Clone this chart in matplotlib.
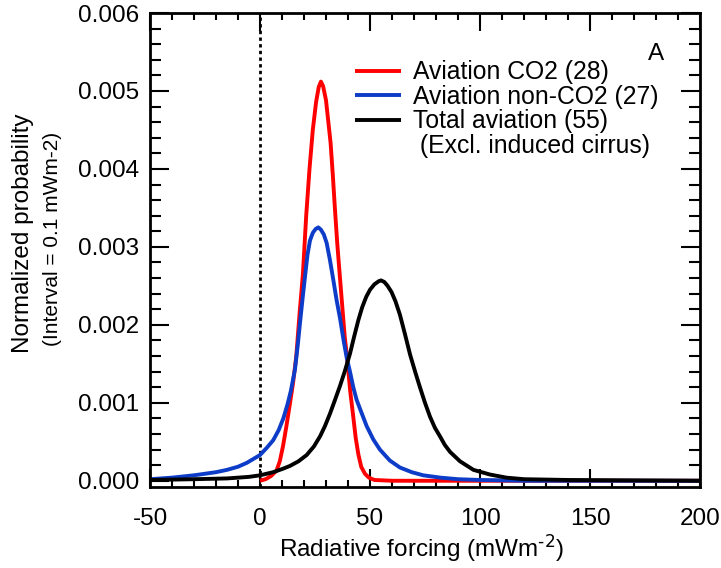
import matplotlib
matplotlib.use('Agg')
import matplotlib.pyplot as plt
from matplotlib.ticker import MultipleLocator, FormatStrFormatter
from matplotlib.lines import Line2D

plt.rcParams['font.family'] = ['Liberation Sans', 'DejaVu Sans']
plt.rcParams['mathtext.default'] = 'regular'
plt.rcParams['axes.unicode_minus'] = False

# Probability distributions of radiative forcing (mWm-2)
co2_x = [0, 2.5, 5, 7.5, 9, 10.5, 12, 13.5, 15, 16.5, 18, 19.5, 21, 22.5, 24, 25.5,
         26.7, 27.7, 28.7, 30, 31, 32.1, 33.1, 34.1, 35.1, 36.3, 37.5, 38.5, 39.7,
         41, 42.4, 43.5, 44.7, 46, 47.7, 49.5, 52, 60, 100, 200]
co2_y = [0.0, 0.00002, 0.00006, 0.00013, 0.00025, 0.00045, 0.00070, 0.00097, 0.00125,
         0.00160, 0.00215, 0.00265, 0.00340, 0.00400, 0.00450, 0.00486, 0.00505,
         0.00512, 0.00506, 0.00488, 0.00462, 0.00433, 0.00392, 0.00347, 0.00305,
         0.00262, 0.00220, 0.00185, 0.00155, 0.00115, 0.00082, 0.00055, 0.00034,
         0.00018, 0.00009, 0.00004, 0.00001, 0.0, 0.0, 0.0]

nonco2_x = [-50, -40, -30, -25, -20, -15, -10, -6, -3, 0, 3, 6, 8.5, 10.6, 12.5, 14,
            15.9, 17.2, 18.2, 19.4, 20.5, 21.6, 22.7, 24, 25.3, 26.5, 27.7, 29, 30.3,
            31.8, 33.3, 34.8, 36.4, 38, 39.4, 40.9, 42.4, 43.9, 45.5, 48.5, 51.5, 54.5,
            59, 63.6, 69, 74.2, 82, 90, 100, 120, 200]
nonco2_y = [0.00002, 0.00004, 0.00007, 0.00009, 0.00011, 0.00014, 0.00018, 0.00023,
            0.00028, 0.00033, 0.00042, 0.00052, 0.00065, 0.00080, 0.00098, 0.00115,
            0.00143, 0.00175, 0.00203, 0.00235, 0.00263, 0.00290, 0.00308, 0.00318,
            0.00323, 0.00325, 0.00322, 0.00316, 0.00305, 0.00283, 0.00258, 0.00232,
            0.00208, 0.00180, 0.00158, 0.00140, 0.00120, 0.00104, 0.00092, 0.00070,
            0.00053, 0.00040, 0.00026, 0.00017, 0.00011, 0.00007, 0.00004, 0.00002,
            0.00001, 0.0, 0.0]

total_x = [-50, -30, -15, -5, 0, 6, 10, 13.6, 17.5, 21.2, 24.5, 27.3, 29.5, 31.8, 34,
           36.4, 38.5, 40.9, 42.8, 44.7, 46.5, 48.3, 50, 52, 54, 55, 56.5, 58, 59.8,
           61.6, 63.6, 65.9, 68.2, 70.5, 72.7, 75, 77.3, 79.5, 81.8, 84, 86.4, 90.9,
           97, 104.5, 112, 120, 140, 200]
total_y = [0.00001, 0.00002, 0.00003, 0.00005, 0.00007, 0.00011, 0.00015, 0.00019,
           0.00025, 0.00033, 0.00044, 0.00057, 0.00070, 0.00086, 0.00103, 0.00122,
           0.00140, 0.00163, 0.00185, 0.00206, 0.00223, 0.00236, 0.00245, 0.00252,
           0.00256, 0.00257, 0.00255, 0.00250, 0.00242, 0.00230, 0.00213, 0.00188,
           0.00162, 0.00140, 0.00120, 0.00100, 0.00082, 0.00068, 0.00057, 0.00046,
           0.00037, 0.00025, 0.00014, 0.00008, 0.00004, 0.00002, 0.00001, 0.0]

labels = ['Aviation CO2 (28)', 'Aviation non-CO2 (27)', 'Total aviation (55)']

fig = plt.figure(figsize=(7.21, 5.68), dpi=100)
ax = fig.add_axes([150 / 721, 81 / 568, 550 / 721, 474 / 568])

ax.axvline(0, color='black', lw=2.0, ls=(0, (1.2, 1.2)), zorder=1)
l1, = ax.plot(co2_x, co2_y, color='#ff0000', lw=2.8, solid_capstyle='butt')
l2, = ax.plot(nonco2_x, nonco2_y, color='#0d3cc8', lw=2.8, solid_capstyle='butt')
l3, = ax.plot(total_x, total_y, color='black', lw=2.8, solid_capstyle='butt')

ax.set_xlim(-50, 200)
ax.set_ylim(-0.00008, 0.006)

ax.xaxis.set_major_locator(MultipleLocator(50))
ax.xaxis.set_minor_locator(MultipleLocator(10))
ax.yaxis.set_major_locator(MultipleLocator(0.001))
ax.yaxis.set_minor_locator(MultipleLocator(0.0002))
ax.yaxis.set_major_formatter(FormatStrFormatter('%.3f'))

for s in ax.spines.values():
    s.set_linewidth(2.0)
ax.tick_params(which='both', direction='in', top=True, right=True, width=1.5,
               labelsize=17.5)
ax.tick_params(axis='x', which='major', length=13, pad=15)
ax.tick_params(axis='x', which='minor', length=5)
ax.tick_params(axis='y', which='major', length=14, pad=8)
ax.tick_params(axis='y', which='minor', length=8)

blank = Line2D([], [], color='none')
ax.legend([l1, l2, l3, blank], labels + [' (Excl. induced cirrus)'],
          loc='upper left', bbox_to_anchor=(0.3727, 0.9), frameon=False,
          fontsize=17.8, borderpad=0, borderaxespad=0, handlelength=1.85,
          handletextpad=0.5, labelspacing=0.02)

ax.text(0.92, 0.913, 'A', transform=ax.transAxes, fontsize=17.5,
        ha='center', va='center')

fig.text(23 / 721, 1 - 233 / 568, 'Normalized probability', rotation=90,
         fontsize=17.5, ha='center', va='center')
fig.text(53 / 721, 1 - 239 / 568, '(Interval = 0.1 mWm-2)', rotation=90,
         fontsize=15, ha='center', va='center')
fig.text(422 / 721, 1 - 548 / 568, r'Radiative forcing (mWm$^{\text{-2}}$)',
         fontsize=17.5, ha='center', va='center')

fig.savefig('out.png', dpi=100)
